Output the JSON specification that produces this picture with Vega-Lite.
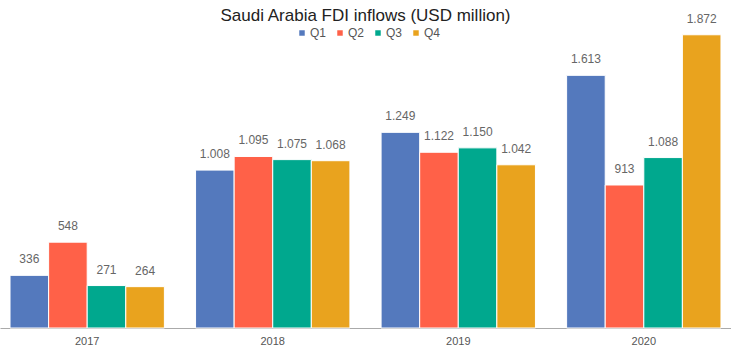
{
  "$schema": "https://vega.github.io/schema/vega-lite/v6.json",
  "autosize": {"type": "none"},
  "width": 731,
  "height": 328,
  "padding": {"left": 0, "top": 0, "right": 0, "bottom": 25},
  "background": "white",
  "title": {"text": "Saudi Arabia FDI inflows (USD million)", "fontSize": 17, "font": "Liberation Sans", "fontWeight": "normal", "color": "#222222", "anchor": "middle", "baseline": "top", "offset": -25},
  "config": {
    "view": {"stroke": null},
    "locale": {"number": {"decimal": ",", "thousands": ".", "grouping": [3], "currency": ["", ""]}}
  },
  "data": {"values": [
    {"year": "2017", "quarter": "Q1", "value": 336},
    {"year": "2017", "quarter": "Q2", "value": 548},
    {"year": "2017", "quarter": "Q3", "value": 271},
    {"year": "2017", "quarter": "Q4", "value": 264},
    {"year": "2018", "quarter": "Q1", "value": 1008},
    {"year": "2018", "quarter": "Q2", "value": 1095},
    {"year": "2018", "quarter": "Q3", "value": 1075},
    {"year": "2018", "quarter": "Q4", "value": 1068},
    {"year": "2019", "quarter": "Q1", "value": 1249},
    {"year": "2019", "quarter": "Q2", "value": 1122},
    {"year": "2019", "quarter": "Q3", "value": 1150},
    {"year": "2019", "quarter": "Q4", "value": 1042},
    {"year": "2020", "quarter": "Q1", "value": 1613},
    {"year": "2020", "quarter": "Q2", "value": 913},
    {"year": "2020", "quarter": "Q3", "value": 1088},
    {"year": "2020", "quarter": "Q4", "value": 1872}
  ]},
  "encoding": {
    "x": {"field": "year", "type": "nominal", "title": null,
      "scale": {"paddingInner": 0.168, "paddingOuter": 0.054},
      "axis": {"labelAngle": 0, "ticks": false, "domainColor": "#aaaaaa", "labelColor": "#555555", "labelFont": "Liberation Sans", "labelFontSize": 11, "labelPadding": 7, "grid": false}},
    "xOffset": {"field": "quarter", "type": "nominal", "sort": ["Q1", "Q2", "Q3", "Q4"]},
    "y": {"field": "value", "type": "quantitative", "scale": {"domain": [0, 2094], "nice": false}, "axis": null}
  },
  "layer": [
    {
      "mark": {"type": "bar", "stroke": "white", "strokeWidth": 1},
      "encoding": {
        "color": {"field": "quarter", "type": "nominal",
          "scale": {"domain": ["Q1", "Q2", "Q3", "Q4"], "range": ["#5479BD", "#FF6148", "#00A88E", "#E9A31E"]},
          "legend": {"title": null, "orient": "none", "direction": "horizontal", "legendX": 296, "legendY": 27, "symbolType": "square", "symbolSize": 30, "symbolStrokeWidth": 0, "labelFont": "Liberation Sans", "labelFontSize": 12, "labelColor": "#555555", "columnPadding": 7, "symbolOffset": 0, "labelOffset": 2}}
      }
    },
    {
      "mark": {"type": "text", "dy": -9, "baseline": "bottom", "font": "Liberation Sans", "fontSize": 12, "color": "#666666"},
      "encoding": {"text": {"field": "value", "type": "quantitative", "format": ",d"}}
    }
  ]
}
